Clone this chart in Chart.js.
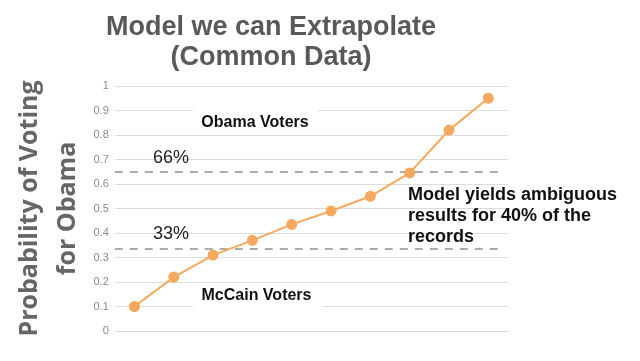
<!DOCTYPE html>
<html><head><meta charset="utf-8">
<script src="https://cdn.jsdelivr.net/npm/chart.js@4"></script>
<style>html,body{margin:0;padding:0;background:#fff}#wrap{width:640px;height:361px}</style>
</head><body><div id="wrap"><canvas id="c" width="640" height="361"></canvas></div>
<script>
const categories = ['1','2','3','4','5','6','7','8','9','10'];
const probabilities = [0.10, 0.22, 0.31, 0.37, 0.435, 0.49, 0.55, 0.645, 0.82, 0.95];
const thresholdValues = [0.65, 0.335];
const thresholdLabels = ['66%', '33%'];
const yTicks = [0, 0.1, 0.2, 0.3, 0.4, 0.5, 0.6, 0.7, 0.8, 0.9, 1];
const titleLines = ['Model we can Extrapolate', '(Common Data)'];
const yTitleLines = ['Probability of Voting', 'for Obama'];
const noteLines = ['Model yields ambiguous', 'results for 40% of the', 'records'];

const annot = {
  id: 'annot',
  beforeDatasetsDraw(chart) {
    const {ctx, chartArea, scales: {y}} = chart;
    ctx.save();
    ctx.strokeStyle = '#ababab';
    ctx.lineWidth = 2;
    ctx.setLineDash([8, 7]);
    thresholdValues.forEach(v => {
      const py = Math.round(y.getPixelForValue(v));
      ctx.beginPath();
      ctx.moveTo(chartArea.left, py);
      ctx.lineTo(chartArea.right - 6, py);
      ctx.stroke();
    });
    ctx.setLineDash([]);
    // white label boxes
    ctx.fillStyle = '#fff';
    ctx.fillRect(193, 105, 125, 27);
    ctx.fillRect(193, 284, 129, 27);
    ctx.restore();
  },
  afterDatasetsDraw(chart) {
    const {ctx} = chart;
    ctx.save();
    ctx.fillStyle = '#595959';
    ctx.textAlign = 'center';
    ctx.textBaseline = 'alphabetic';
    ctx.font = 'bold 27px "Liberation Sans", Arial, sans-serif';
    ctx.fillText(titleLines[0], 271, 35);
    ctx.fillText(titleLines[1], 271, 65);
    ctx.fillStyle = '#111';
    ctx.font = 'bold 16px "Liberation Sans", Arial, sans-serif';
    ctx.fillText('Obama Voters', 255, 127);
    ctx.fillText('McCain Voters', 256.5, 300);
    ctx.font = '18px "Liberation Sans", Arial, sans-serif';
    ctx.fillStyle = '#222';
    ctx.textAlign = 'left';
    ctx.fillText(thresholdLabels[0], 153, 163);
    ctx.fillText(thresholdLabels[1], 153, 239);
    ctx.fillStyle = '#111';
    ctx.font = 'bold 18px "Liberation Sans", Arial, sans-serif';
    noteLines.forEach((t, i) => ctx.fillText(t, 408, 200 + i * 21));
    ctx.restore();
  }
};

new Chart(document.getElementById('c'), {
  type: 'line',
  data: {
    labels: categories,
    datasets: [{
      data: probabilities,
      borderColor: '#f6a95e',
      backgroundColor: '#f6a95e',
      borderWidth: 2,
      pointRadius: 4.5,
      pointHoverRadius: 4.5,
      tension: 0
    }]
  },
  options: {
    responsive: false,
    animation: false,
    events: [],
    layout: { padding: { top: 86, right: 132, bottom: 22, left: 10 } },
    plugins: { legend: { display: false }, title: { display: false }, tooltip: { enabled: false } },
    scales: {
      x: {
        offset: true,
        grid: { display: false },
        border: { display: false },
        ticks: { display: false }
      },
      y: {
        min: 0, max: 1,
        afterBuildTicks(scale) { scale.ticks = yTicks.map(v => ({ value: v })); },
        border: { display: false },
        grid: { color: '#dcdcdc', lineWidth: 1, drawTicks: false },
        ticks: {
          color: '#8a8a8a',
          padding: 6,
          font: { family: '"Liberation Sans", Arial, sans-serif', size: 11 },
          callback: v => String(v)
        },
        title: {
          display: true,
          text: yTitleLines,
          color: '#666666',
          font: { family: '"Open Sans", sans-serif', size: 25, weight: 'bold', lineHeight: 1.55 },
          padding: { top: 0, bottom: 0 }
        }
      }
    }
  },
  plugins: [annot]
});
</script>
</body></html>
